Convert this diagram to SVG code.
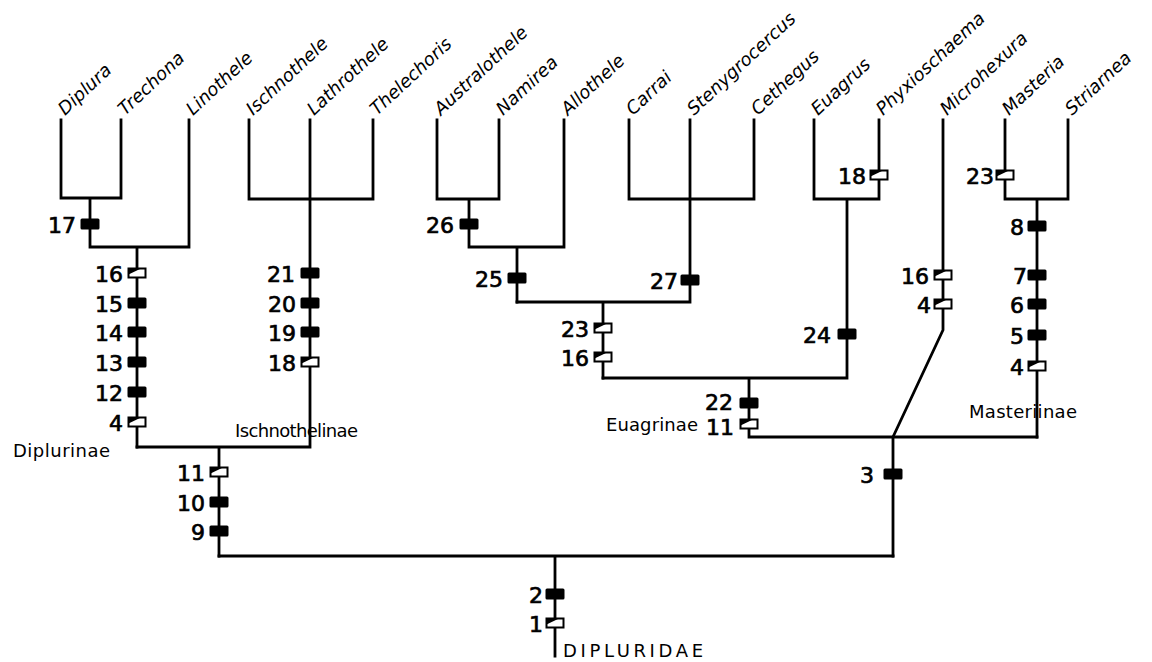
<svg xmlns="http://www.w3.org/2000/svg" width="1152" height="662" viewBox="0 0 1152 662">
<style>
.ln{fill:none;stroke:#000;stroke-width:2.8;stroke-linecap:square;stroke-linejoin:miter}
.tx{font-family:"DejaVu Sans","Liberation Sans",sans-serif;font-style:oblique;font-size:18px;fill:#000}
.nm{font-family:"DejaVu Sans","Liberation Sans",sans-serif;font-size:22px;fill:#000;stroke:#000;stroke-width:0.7;text-anchor:end}
.gp{font-family:"DejaVu Sans","Liberation Sans",sans-serif;font-size:18px;fill:#000}
</style>
<defs>
<g id="fm"><rect x="-9.5" y="-5.5" width="19" height="11" rx="1.5" fill="#000"/></g>
<g id="om"><rect x="-8.5" y="-4.5" width="17" height="9" fill="#fff" stroke="#000" stroke-width="2"/><polygon points="-8.5,-4.5 4,-4.5 -8.5,1.5" fill="#000"/></g>
</defs>
<rect width="1152" height="662" fill="#fff"/>

<g id="connectors" class="ln">
<path d="M61,120V198H121V120M90,198V247M189,120V247H90M137,247V447"/>
<path d="M249,120V199H373V120M310,120V447H137M219,447V556"/>
<path d="M219,556H893M555,556V656"/>
<path d="M437,120V199H499V120M469,199V247M564,120V247H469M517,247V302"/>
<path d="M629,120V199H754V120M690,120V302H517M603,302V378"/>
<path d="M814,120V199H879V120M847,199V378H603M749,378V437H1037"/>
<path d="M943,120V330L893,437V556"/>
<path d="M1005,120V199H1068V120M1037,199V437"/>
</g>

<g id="taxa">
<g id="t-diplura"><text class="tx" x="65" y="116" transform="rotate(-43 65 116)">Diplura</text></g>
<g id="t-trechona"><text class="tx" x="125" y="116" transform="rotate(-43 125 116)">Trechona</text></g>
<g id="t-linothele"><text class="tx" x="193" y="116" transform="rotate(-43 193 116)">Linothele</text></g>
<g id="t-ischnothele"><text class="tx" x="253" y="116" transform="rotate(-43 253 116)">Ischnothele</text></g>
<g id="t-lathrothele"><text class="tx" x="314" y="116" transform="rotate(-43 314 116)">Lathrothele</text></g>
<g id="t-thelechoris"><text class="tx" x="377" y="116" transform="rotate(-43 377 116)">Thelechoris</text></g>
<g id="t-australothele"><text class="tx" x="441" y="116" transform="rotate(-43 441 116)">Australothele</text></g>
<g id="t-namirea"><text class="tx" x="503" y="116" transform="rotate(-43 503 116)">Namirea</text></g>
<g id="t-allothele"><text class="tx" x="568" y="116" transform="rotate(-43 568 116)">Allothele</text></g>
<g id="t-carrai"><text class="tx" x="633" y="116" transform="rotate(-43 633 116)">Carrai</text></g>
<g id="t-stenygrocercus"><text class="tx" x="694" y="116" transform="rotate(-43 694 116)">Stenygrocercus</text></g>
<g id="t-cethegus"><text class="tx" x="758" y="116" transform="rotate(-43 758 116)">Cethegus</text></g>
<g id="t-euagrus"><text class="tx" x="818" y="116" transform="rotate(-43 818 116)">Euagrus</text></g>
<g id="t-phyxioschaema"><text class="tx" x="883" y="116" transform="rotate(-43 883 116)">Phyxioschaema</text></g>
<g id="t-microhexura"><text class="tx" x="947" y="116" transform="rotate(-43 947 116)">Microhexura</text></g>
<g id="t-masteria"><text class="tx" x="1009" y="116" transform="rotate(-43 1009 116)">Masteria</text></g>
<g id="t-striarnea"><text class="tx" x="1072" y="116" transform="rotate(-43 1072 116)">Striarnea</text></g>
</g>

<g id="groups">
<g id="g-diplurinae"><text class="gp" x="13" y="457" textLength="97" lengthAdjust="spacing">Diplurinae</text></g>
<g id="g-ischnothelinae"><text class="gp" x="235" y="437" textLength="123" lengthAdjust="spacing">Ischnothelinae</text></g>
<g id="g-euagrinae"><text class="gp" x="606" y="431" textLength="92" lengthAdjust="spacing">Euagrinae</text></g>
<g id="g-masteriinae"><text class="gp" x="969" y="418" textLength="108" lengthAdjust="spacing">Masteriinae</text></g>
<g id="g-dipluridae"><text class="gp" x="563" y="657" textLength="140" lengthAdjust="spacing">DIPLURIDAE</text></g>
</g>

<g id="characters">
<g id="b-diplura-trechona"><use href="#fm" x="90" y="224"/><text class="nm" x="76" y="233">17</text></g>
<g id="b-diplurinae">
<use href="#om" x="137" y="273"/><text class="nm" x="123" y="282">16</text>
<use href="#fm" x="137" y="303"/><text class="nm" x="123" y="312">15</text>
<use href="#fm" x="137" y="332"/><text class="nm" x="123" y="341">14</text>
<use href="#fm" x="137" y="362"/><text class="nm" x="123" y="371">13</text>
<use href="#fm" x="137" y="392"/><text class="nm" x="123" y="401">12</text>
<use href="#om" x="137" y="422"/><text class="nm" x="123" y="431">4</text>
</g>
<g id="b-ischnothelinae">
<use href="#fm" x="310" y="273"/><text class="nm" x="295" y="282">21</text>
<use href="#fm" x="310" y="303"/><text class="nm" x="296" y="312">20</text>
<use href="#fm" x="310" y="332"/><text class="nm" x="296" y="341">19</text>
<use href="#om" x="310" y="362"/><text class="nm" x="296" y="371">18</text>
</g>
<g id="b-diplurinae-ischnothelinae">
<use href="#om" x="219" y="472"/><text class="nm" x="205" y="481">11</text>
<use href="#fm" x="219" y="502"/><text class="nm" x="205" y="511">10</text>
<use href="#fm" x="219" y="531"/><text class="nm" x="205" y="540">9</text>
</g>
<g id="b-root">
<use href="#fm" x="555" y="594"/><text class="nm" x="543" y="603">2</text>
<use href="#om" x="555" y="623"/><text class="nm" x="543" y="632">1</text>
</g>
<g id="b-australothele-namirea"><use href="#fm" x="469" y="224"/><text class="nm" x="454" y="233">26</text></g>
<g id="b-allothele-clade"><use href="#fm" x="517" y="278"/><text class="nm" x="503" y="287">25</text></g>
<g id="b-stenygrocercus"><use href="#fm" x="690" y="280"/><text class="nm" x="678" y="289">27</text></g>
<g id="b-euagrinae-a">
<use href="#om" x="603" y="328"/><text class="nm" x="589" y="337">23</text>
<use href="#om" x="603" y="357"/><text class="nm" x="589" y="366">16</text>
</g>
<g id="b-phyxioschaema"><use href="#om" x="879" y="175"/><text class="nm" x="866" y="184">18</text></g>
<g id="b-euagrus-clade"><use href="#fm" x="847" y="334"/><text class="nm" x="831" y="343">24</text></g>
<g id="b-euagrinae">
<use href="#fm" x="749" y="403"/><text class="nm" x="733" y="410">22</text>
<use href="#om" x="749" y="424"/><text class="nm" x="734" y="435">11</text>
</g>
<g id="b-microhexura">
<use href="#om" x="943" y="275"/><text class="nm" x="929" y="284">16</text>
<use href="#om" x="943" y="304"/><text class="nm" x="931" y="313">4</text>
</g>
<g id="b-masteria"><use href="#om" x="1005" y="175"/><text class="nm" x="994" y="184">23</text></g>
<g id="b-masteriinae">
<use href="#fm" x="1037" y="226"/><text class="nm" x="1024" y="235">8</text>
<use href="#fm" x="1037" y="275"/><text class="nm" x="1027" y="284">7</text>
<use href="#fm" x="1037" y="304"/><text class="nm" x="1024" y="313">6</text>
<use href="#fm" x="1037" y="335"/><text class="nm" x="1024" y="344">5</text>
<use href="#om" x="1037" y="366"/><text class="nm" x="1024" y="375">4</text>
</g>
<g id="b-microhexura-masteriinae"><use href="#fm" x="893" y="474"/><text class="nm" x="874" y="483">3</text></g>
</g>
</svg>
